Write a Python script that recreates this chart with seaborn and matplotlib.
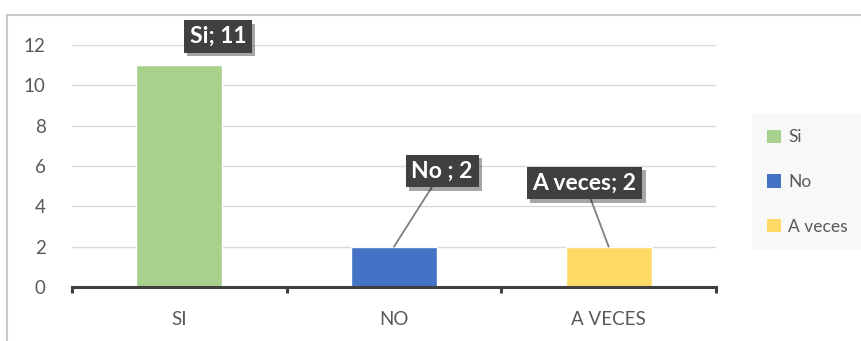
import matplotlib
matplotlib.use("Agg")
import matplotlib.pyplot as plt
import matplotlib.patheffects as pe
from matplotlib.lines import Line2D
from matplotlib.patches import Patch
import seaborn as sns
import pandas as pd

# Survey answers
categories = ["SI", "NO", "A VECES"]
series_names = ["Si", "No", "A veces"]
values = [11, 2, 2]
point_labels = ["Si; 11", "No ; 2", "A veces; 2"]
bar_colors = ["#A9D18E", "#4472C4", "#FFD966"]
yticks = [0, 2, 4, 6, 8, 10, 12]

sns.set_theme(style="white")
plt.rcParams["font.family"] = ["Lato", "DejaVu Sans"]

df = pd.DataFrame({"cat": categories, "serie": series_names, "val": values})

fig = plt.figure(figsize=(8.62, 3.41), dpi=100)
ax = fig.add_axes([72 / 862, 54 / 341, 644 / 862, 242 / 341])

sns.barplot(data=df, x="cat", y="val", hue="serie", palette=bar_colors,
            dodge=False, width=0.4, legend=False, ax=ax, saturation=1)

ax.set_ylim(0, 12)
ax.set_xlim(-0.5, 2.5)
ax.set_yticks(yticks)
ax.yaxis.grid(True, color="#d9d9d9", lw=1)
ax.set_axisbelow(True)
ax.set_xlabel("")
ax.set_ylabel("")
for s in ["top", "right", "left"]:
    ax.spines[s].set_visible(False)
ax.spines["bottom"].set_color("#404040")
ax.spines["bottom"].set_linewidth(2.2)
ax.tick_params(axis="y", length=0, labelsize=13.5, labelcolor="#595959", pad=19)
ax.tick_params(axis="x", length=0, labelsize=13.5, labelcolor="#595959", pad=17)

# category separator ticks under the axis line
for xb in [-0.5, 0.5, 1.5, 2.5]:
    ax.plot([xb, xb], [0, -0.3], color="#404040", lw=2.2, clip_on=False,
            solid_capstyle="butt")

# data labels in dark callout boxes
label_pos = [(0.18, 12.42), (1.224, 5.75), (1.888, 5.16)]
with_leader = [False, True, True]
for i, (txt, (tx, ty), lead) in enumerate(zip(point_labels, label_pos, with_leader)):
    arrow = dict(arrowstyle="-", color="#7f7f7f", lw=1.3, shrinkA=0, shrinkB=0) if lead else None
    ann = ax.annotate(txt, xy=(i, values[i]), xytext=(tx, ty), textcoords="data",
                      ha="center", va="center", fontsize=16.5, fontweight="bold",
                      color="white", annotation_clip=False,
                      bbox=dict(boxstyle="square,pad=0.25", fc="#404040", ec="none"),
                      arrowprops=arrow, zorder=5)
    ann.get_bbox_patch().set_path_effects([
        pe.withSimplePatchShadow(offset=(2.5, -2.5), shadow_rgbFace="#000000", alpha=0.35),
        pe.Normal()])

# legend
handles = [Patch(facecolor=c, edgecolor="none") for c in bar_colors]
leg = fig.legend(handles, series_names, loc="center left",
                 bbox_to_anchor=(743 / 862, (341 - 182) / 341),
                 frameon=True, fontsize=12.5, labelspacing=1.65,
                 handlelength=0.8, handleheight=0.8, handletextpad=0.4,
                 borderpad=0.9, fancybox=False)
leg.get_frame().set_facecolor("#f7f7f7")
leg.get_frame().set_edgecolor("none")
for t in leg.get_texts():
    t.set_color("#595959")

# chart frame lines
fig.add_artist(Line2D([7 / 862, 1], [1 - 15 / 341, 1 - 15 / 341],
                      transform=fig.transFigure, color="#c8c8c8", lw=1.5))
fig.add_artist(Line2D([7 / 862, 7 / 862], [0, 1 - 15 / 341],
                      transform=fig.transFigure, color="#c8c8c8", lw=1.5))

fig.savefig("out.png", dpi=100)
